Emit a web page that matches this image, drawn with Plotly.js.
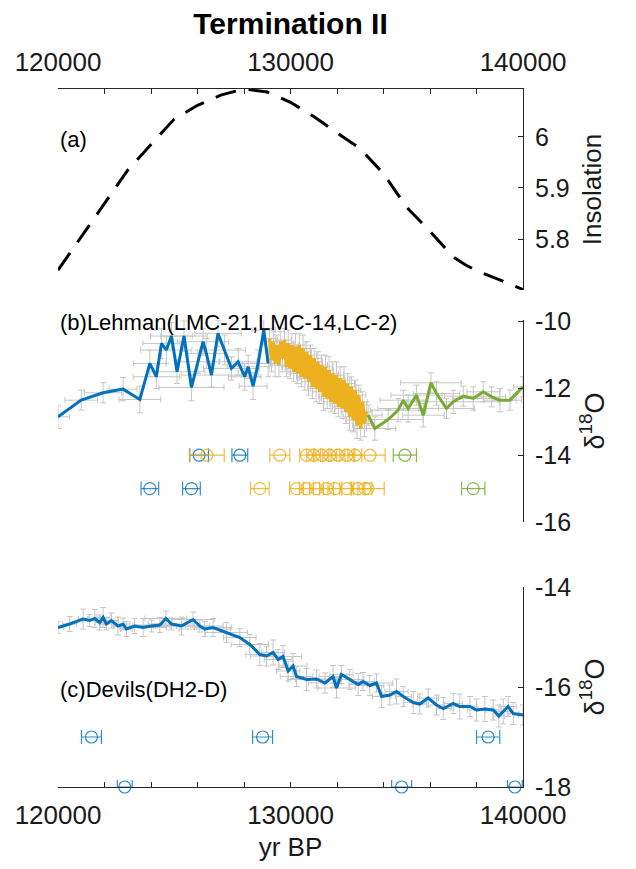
<!DOCTYPE html>
<html>
<head>
<meta charset="utf-8">
<script src="https://cdn.plot.ly/plotly-3.0.1.min.js"></script>
<style>html,body{margin:0;padding:0;background:#fff;}#chart{width:636px;height:869px;}</style>
</head>
<body>
<div id="chart"></div>
<script>
// ---------- (a) Insolation ----------
const insolAge = [120000,121000,122000,123000,124000,125000,126000,127000,128000,129000,130000,131000,132000,133000,134000,135000,136000,137000,137500,138000,139000,140000];
const insolVal = [5.739,5.805,5.870,5.935,5.985,6.035,6.062,6.082,6.094,6.088,6.068,6.040,6.008,5.977,5.928,5.862,5.815,5.765,5.750,5.738,5.720,5.701];

// ---------- (b) Lehman Caves ----------
const lmc21Age = [120000,121000,121940,122800,123520,123950,124230,124450,124660,124880,125120,125420,125740,126020,126240,126380,126600,126880,127170,127460,127750,128030,128180,128390,128610,128850,129040];
const lmc21D18O = [-12.85,-12.35,-12.13,-12.02,-12.33,-11.25,-11.65,-10.65,-10.85,-10.43,-11.5,-10.43,-11.97,-11.2,-10.6,-10.95,-11.6,-10.35,-10.85,-11.4,-11.2,-11.65,-11.35,-11.93,-11.25,-10.25,-11.25];
const lmc21AgeErr = [500,700,800,600,900,700,1000,800,1100,900,1200,1000,1400,900,1100,800,1300,1000,900,1200,800,700,900,600,700,500,400];
const lmc21D18OErr = [0.35,0.3,0.3,0.35,0.4,0.4,0.35,0.45,0.4,0.4,0.35,0.45,0.4,0.35,0.4,0.45,0.35,0.4,0.45,0.35,0.4,0.4,0.35,0.4,0.4,0.45,0.4];

const lmc14Age = [129100,129180,129260,129340,129420,129500,129580,129660,129740,129820,129900,129980,130060,130140,130220,130300,130380,130460,130540,130620,130700,130780,130860,130940,131020,131100,131180,131260,131340,131420,131500,131580,131660,131740,131820,131900,131980,132060,132140,132220,132300,132380,132460,132540,132620,132700,132780,132860,132940,133020,133100,133180,133260];
const lmc14D18O = [-10.5,-11.15,-10.6,-11.25,-10.7,-11.3,-10.6,-11.1,-10.55,-11.35,-10.65,-11.4,-10.7,-11.5,-10.75,-11.55,-10.7,-11.65,-10.8,-11.7,-10.9,-11.8,-11.0,-11.95,-11.1,-12.0,-11.2,-12.1,-11.3,-12.25,-11.35,-12.3,-11.45,-12.4,-11.55,-12.45,-11.6,-12.55,-11.7,-12.6,-11.75,-12.7,-11.85,-12.85,-11.95,-12.95,-12.05,-13.1,-12.2,-13.2,-12.4,-13.05,-12.7];
const lmc14AgeErr = [250,200,300,200,250,300,200,250,300,200,250,200,300,250,200,300,250,200,300,250,200,300,250,200,300,250,200,300,250,200,300,250,200,300,250,200,300,250,200,300,250,200,300,250,200,300,250,200,300,250,200,300,250];
const lmc14D18OErr = [0.3,0.35,0.3,0.4,0.3,0.35,0.3,0.4,0.35,0.3,0.4,0.3,0.35,0.3,0.4,0.3,0.35,0.3,0.4,0.35,0.3,0.4,0.3,0.35,0.3,0.4,0.3,0.35,0.3,0.4,0.35,0.3,0.4,0.3,0.35,0.3,0.4,0.3,0.35,0.3,0.4,0.35,0.3,0.4,0.3,0.35,0.3,0.4,0.3,0.35,0.3,0.4,0.3];

const lc2Age = [133340,133630,134200,134630,134850,135060,135420,135710,136040,136280,136710,137000,137430,137860,138290,138650,139010,139440,140000];
const lc2D18O = [-12.8,-13.2,-12.93,-12.65,-12.35,-12.6,-12.2,-12.8,-11.83,-12.15,-12.6,-12.4,-12.23,-12.3,-12.1,-12.25,-12.35,-12.35,-11.95];
const lc2AgeErr = [600,900,1500,1200,1000,1300,1100,900,1300,1000,1200,2000,800,900,700,600,700,500,400];
const lc2D18OErr = [0.3,0.35,0.3,0.35,0.3,0.4,0.3,0.35,0.3,0.35,0.3,0.35,0.3,0.35,0.3,0.3,0.35,0.3,0.3];

// U-Th dates (Lehman)
const datesRow1Y = -14, datesRow2Y = -15;
const lmc21DateAgeR1 = [126070,127820];
const lmc21DateErrR1 = [400,340];
const lmc21DateAgeR2 = [123950,125740];
const lmc21DateErrR2 = [380,380];
const lmc14DateAgeR1 = [126400,129540,130690,131000,131350,131690,132040,132420,132770,133420];
const lmc14DateErrR1 = [750,430,300,300,300,300,300,300,300,650];
const lmc14DateAgeR2 = [128680,130260,130690,131120,131550,131910,132420,132900,133200,133330];
const lmc14DateErrR2 = [400,300,300,300,300,300,300,300,300,700];
const lc2DateAgeR1 = [134920];
const lc2DateErrR1 = [500];
const lc2DateAgeR2 = [137860];
const lc2DateErrR2 = [500];

// ---------- (c) Devils Hole ----------
const dh2Age = [120000,120500,121080,121360,121580,121790,121940,122080,122300,122580,122800,122940,123300,123660,124020,124380,124640,124880,125310,125810,126100,126310,126670,127250,127820,128250,128680,128970,129250,129470,129680,129900,130110,130260,130690,131120,131480,131830,131980,132190,132550,132910,133120,133410,133700,133920,134270,134560,134850,135280,135560,135920,136280,136570,137000,137280,137720,138000,138360,138720,138960,139150,139360,139580,140000];
const dh2D18O = [-14.81,-14.74,-14.64,-14.67,-14.63,-14.71,-14.61,-14.74,-14.67,-14.78,-14.74,-14.84,-14.78,-14.81,-14.78,-14.76,-14.63,-14.74,-14.78,-14.65,-14.78,-14.84,-14.81,-14.91,-15.01,-15.15,-15.35,-15.38,-15.31,-15.45,-15.39,-15.68,-15.58,-15.79,-15.85,-15.84,-15.92,-15.79,-16.02,-15.75,-15.85,-15.95,-15.89,-15.97,-15.92,-16.19,-16.16,-16.09,-16.19,-16.31,-16.34,-16.22,-16.36,-16.43,-16.33,-16.39,-16.39,-16.46,-16.44,-16.46,-16.58,-16.49,-16.39,-16.53,-16.56];
const dh2AgeErr = [250,300,200,300,250,200,300,250,300,200,300,250,900,1000,800,1100,900,1000,1200,900,1000,1100,800,900,700,800,600,700,500,600,800,500,600,700,800,900,700,600,800,500,600,400,500,600,700,400,300,500,350,400,300,450,350,300,400,350,300,400,300,350,250,300,350,250,200];
const dh2D18OErr = [0.12,0.15,0.2,0.12,0.18,0.15,0.2,0.12,0.15,0.18,0.12,0.15,0.15,0.18,0.12,0.15,0.15,0.12,0.18,0.15,0.12,0.15,0.18,0.2,0.18,0.2,0.22,0.2,0.25,0.2,0.22,0.2,0.25,0.2,0.22,0.18,0.2,0.22,0.2,0.18,0.2,0.22,0.18,0.2,0.18,0.22,0.2,0.25,0.2,0.22,0.2,0.18,0.2,0.22,0.2,0.25,0.2,0.22,0.25,0.2,0.22,0.25,0.2,0.22,0.2];

const dhDateRow1Y = -17, dhDateRow2Y = -18;
const dhDateAgeR1 = [121440,128800,138500];
const dhDateErrR1 = [430,430,500];
const dhDateAgeR2 = [122870,134780,139650];
const dhDateErrR2 = [320,430,320];

// ---------- axis ticks ----------
const xTickVals = [120000,130000,140000];
const xTickText = ['120000','130000','140000'];
const insolTicks = [5.8,5.9,6];
const insolTickText = ['5.8','5.9','6'];
const lehTicks = [-16,-14,-12,-10];
const lehTickText = ['-16','-14','-12','-10'];
const dhTicks = [-18,-16,-14];
const dhTickText = ['-18','-16','-14'];

// ---------- styles ----------
const FONT = 'Liberation Sans, Arial, Helvetica, sans-serif';
const AXC = '#262626';
const GREY = '#c6c6c6';
const BLUE = '#0072BD', ORANGE = '#EDB120', GREEN = '#77AC30';

function errTrace(x, y, ex, ey, ya) {
  return {x: x, y: y, xaxis: 'x', yaxis: ya, type: 'scatter', mode: 'markers',
    marker: {size: 1, color: 'rgba(0,0,0,0)'},
    error_x: {type: 'data', array: ex, visible: true, color: GREY, thickness: 1, width: 3},
    error_y: {type: 'data', array: ey, visible: true, color: GREY, thickness: 1, width: 3},
    hoverinfo: 'skip', showlegend: false};
}
function lineTrace(x, y, ya, color, w) {
  return {x: x, y: y, xaxis: 'x', yaxis: ya, type: 'scatter', mode: 'lines',
    line: {color: color, width: w}, showlegend: false};
}
function dateTrace(x, yv, ex, ya, color) {
  return {x: x, y: x.map(() => yv), xaxis: 'x', yaxis: ya, type: 'scatter', mode: 'markers',
    cliponaxis: false,
    marker: {symbol: 'circle-open', size: 12, color: color, line: {width: 1.2, color: color}},
    error_x: {type: 'data', array: ex, visible: true, color: color, thickness: 1.2, width: 7},
    showlegend: false};
}

const traces = [
  {x: insolAge, y: insolVal, xaxis: 'x2', yaxis: 'y', type: 'scatter', mode: 'lines',
   line: {color: '#000', width: 3, dash: '21px,13px'}, showlegend: false},
  errTrace(lmc21Age, lmc21D18O, lmc21AgeErr, lmc21D18OErr, 'y2'),
  errTrace(lmc14Age, lmc14D18O, lmc14AgeErr, lmc14D18OErr, 'y2'),
  errTrace(lc2Age, lc2D18O, lc2AgeErr, lc2D18OErr, 'y2'),
  lineTrace(lmc21Age, lmc21D18O, 'y2', BLUE, 3),
  lineTrace(lmc14Age, lmc14D18O, 'y2', ORANGE, 3.5),
  lineTrace(lc2Age, lc2D18O, 'y2', GREEN, 3),
  dateTrace(lmc21DateAgeR1, datesRow1Y, lmc21DateErrR1, 'y2', 'rgba(0,114,189,0.8)'),
  dateTrace(lmc21DateAgeR2, datesRow2Y, lmc21DateErrR2, 'y2', 'rgba(0,114,189,0.8)'),
  dateTrace(lmc14DateAgeR1, datesRow1Y, lmc14DateErrR1, 'y2', 'rgba(237,177,32,0.85)'),
  dateTrace(lmc14DateAgeR2, datesRow2Y, lmc14DateErrR2, 'y2', 'rgba(237,177,32,0.85)'),
  dateTrace(lc2DateAgeR1, datesRow1Y, lc2DateErrR1, 'y2', 'rgba(119,172,48,0.85)'),
  dateTrace(lc2DateAgeR2, datesRow2Y, lc2DateErrR2, 'y2', 'rgba(119,172,48,0.85)'),
  errTrace(dh2Age, dh2D18O, dh2AgeErr, dh2D18OErr, 'y3'),
  lineTrace(dh2Age, dh2D18O, 'y3', BLUE, 3),
  dateTrace(dhDateAgeR1, dhDateRow1Y, dhDateErrR1, 'y3', 'rgba(0,114,189,0.8)'),
  dateTrace(dhDateAgeR2, dhDateRow2Y, dhDateErrR2, 'y3', 'rgba(0,114,189,0.8)')
];

const yCommon = {side: 'right', showline: true, linecolor: AXC, linewidth: 1, ticks: 'inside', ticklen: 5,
  tickcolor: AXC, showgrid: false, zeroline: false, tickfont: {size: 25, color: '#1a1a1a'}, ticklabelstandoff: 6};
const xMinor = {tickmode: 'linear', tick0: 120000, dtick: 2000, ticks: 'inside', ticklen: 5, tickcolor: AXC, showgrid: false};

const layout = {
  width: 636, height: 869,
  margin: {l: 58, r: 113, t: 89, b: 82},
  paper_bgcolor: '#fff', plot_bgcolor: 'rgba(0,0,0,0)',
  font: {family: FONT, color: '#1a1a1a'},
  showlegend: false,
  title: {text: '<b>Termination II</b>', font: {size: 30, color: '#000'}, xref: 'paper', x: 0.5, xanchor: 'center',
          yref: 'container', y: 1 - 23/869, yanchor: 'middle'},
  xaxis: {domain: [0, 1], anchor: 'y3', range: [120000, 140000], tickmode: 'array', tickvals: xTickVals, ticktext: xTickText,
          ticks: 'inside', ticklen: 5, tickcolor: AXC, showline: true, linecolor: AXC, linewidth: 1, minor: xMinor,
          showgrid: false, zeroline: false, tickfont: {size: 26, color: '#1a1a1a'}, ticklabelstandoff: 5,
          title: {text: 'yr BP', font: {size: 26, color: '#1a1a1a'}, standoff: 8}},
  xaxis2: {domain: [0, 1], anchor: 'y', side: 'top', range: [120000, 140000], tickmode: 'array', tickvals: xTickVals, ticktext: xTickText,
           ticks: 'inside', ticklen: 5, tickcolor: AXC, showline: true, linecolor: AXC, linewidth: 1, minor: xMinor,
           showgrid: false, zeroline: false, tickfont: {size: 26, color: '#1a1a1a'}, ticklabelstandoff: 7},
  yaxis: Object.assign({}, yCommon, {domain: [0.712, 1], anchor: 'x2', range: [5.70, 6.094], tickmode: 'array', tickvals: insolTicks, ticktext: insolTickText,
          title: {text: 'Insolation', font: {size: 26, color: '#1a1a1a'}, standoff: 14}}),
  yaxis2: Object.assign({}, yCommon, {domain: [0.3797, 0.669], anchor: 'x', range: [-16, -9.95], tickmode: 'array', tickvals: lehTicks, ticktext: lehTickText,
          title: {text: 'δ<sup>18</sup>O', font: {size: 27, color: '#1a1a1a'}, standoff: 14}}),
  yaxis3: Object.assign({}, yCommon, {domain: [0, 0.2865], anchor: 'x', range: [-18, -14], tickmode: 'array', tickvals: dhTicks, ticktext: dhTickText,
          title: {text: 'δ<sup>18</sup>O', font: {size: 27, color: '#1a1a1a'}, standoff: 14}}),
  annotations: [
    {text: '(a)', xref: 'paper', yref: 'paper', x: 0, y: 0.927, xanchor: 'left', yanchor: 'middle', showarrow: false, font: {size: 22, color: '#000'}},
    {text: '(b)Lehman(LMC-21,LMC-14,LC-2)', xref: 'paper', yref: 'paper', x: 0, y: 0.665, xanchor: 'left', yanchor: 'middle', showarrow: false, font: {size: 22, color: '#000'}},
    {text: '(c)Devils(DH2-D)', xref: 'paper', yref: 'paper', x: 0, y: 0.139, xanchor: 'left', yanchor: 'middle', showarrow: false, font: {size: 22, color: '#000'}}
  ]
};

Plotly.newPlot('chart', traces, layout, {staticPlot: true, displayModeBar: false});
</script>
</body>
</html>
